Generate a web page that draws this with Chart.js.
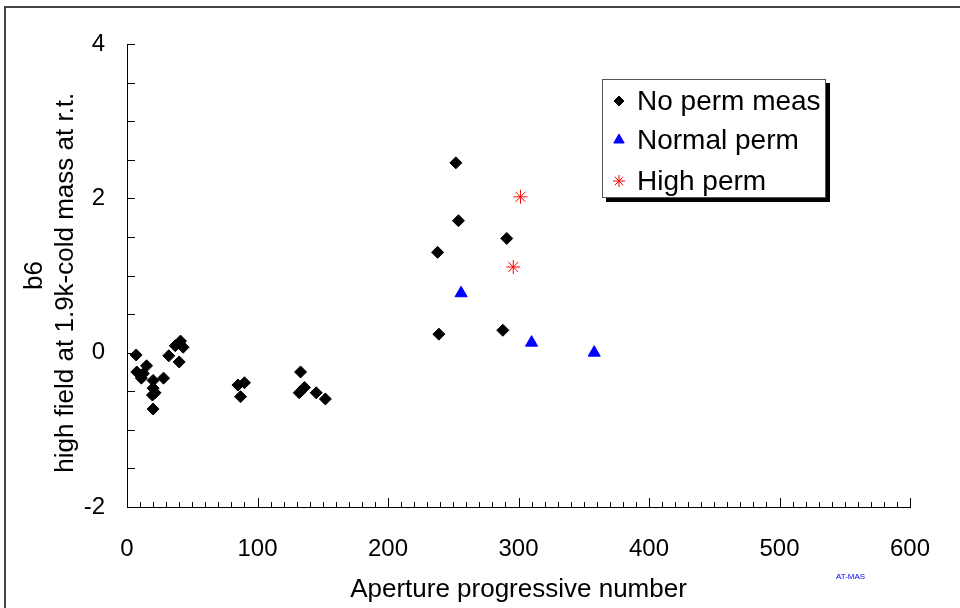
<!DOCTYPE html>
<html>
<head>
<meta charset="utf-8">
<script src="https://cdn.jsdelivr.net/npm/chart.js@4"></script>
<style>
  html, body { margin: 0; padding: 0; background: #fff; overflow: hidden; }
  #wrap { position: relative; width: 960px; height: 608px; }
  #tag {
    position: absolute; left: 836px; top: 572px;
    font: 8px "Liberation Sans", Arial, sans-serif; color: #0000ff;
  }
</style>
</head>
<body>
<div id="wrap">
  <canvas id="chart" width="960" height="608"></canvas>
  <div id="tag">AT-MAS</div>
</div>
<script>
const xTicks = [0, 100, 200, 300, 400, 500, 600];
const yTicks = [-2, 0, 2, 4];

const noPermX = [7, 15, 7.5, 11, 12.5, 20, 28, 20, 21.5, 19.5, 20, 32, 37, 41, 43, 40,
  85, 90, 87, 133, 136, 132, 145, 152,
  252, 254, 291, 238, 239, 288];
const noPermY = [-0.03, -0.17, -0.25, -0.33, -0.27, -0.36, -0.33, -0.46, -0.52, -0.55, -0.73, -0.04, 0.09, 0.15, 0.07, -0.12,
  -0.42, -0.39, -0.57, -0.25, -0.45, -0.52, -0.52, -0.6,
  2.46, 1.71, 1.48, 1.3, 0.24, 0.29];

const normalPermX = [256, 310, 358];
const normalPermY = [0.77, 0.13, 0.0];

const highPermX = [301.5, 296];
const highPermY = [2.02, 1.11];

const FONT = '"Liberation Sans", Arial, sans-serif';

function toPoints(xs, ys) {
  return xs.map((x, i) => ({ x, y: ys[i] }));
}

function drawMarker(ctx, style, x, y, radius, fill, stroke, width) {
  ctx.save();
  ctx.fillStyle = fill;
  ctx.strokeStyle = stroke;
  ctx.lineWidth = width;
  if (Chart.helpers && Chart.helpers.drawPoint) {
    Chart.helpers.drawPoint(ctx, { pointStyle: style, rotation: 0, radius, borderWidth: width }, x, y);
  }
  ctx.restore();
}

// frame, inward tick marks and the boxed legend
const decorPlugin = {
  id: 'decor',
  beforeDraw(chart) {
    const ctx = chart.ctx;
    ctx.save();
    ctx.strokeStyle = '#444';
    ctx.lineWidth = 2;
    ctx.beginPath();
    ctx.moveTo(5, 700);
    ctx.lineTo(5, 7);
    ctx.lineTo(1000, 7);
    ctx.stroke();
    ctx.restore();
  },
  afterDraw(chart) {
    const ctx = chart.ctx;
    const xs = chart.scales.x;
    const ys = chart.scales.y;
    const area = chart.chartArea;

    ctx.save();
    ctx.strokeStyle = '#000';
    ctx.lineWidth = 1;
    ctx.beginPath();
    for (let v = xs.min; v <= xs.max; v += 10) {
      const px = Math.round(xs.getPixelForValue(v)) + 0.5;
      const len = v % 100 === 0 ? 9 : 5;
      ctx.moveTo(px, area.bottom);
      ctx.lineTo(px, area.bottom - len);
    }
    for (let v = ys.min; v <= ys.max + 1e-9; v += 0.5) {
      const py = Math.round(ys.getPixelForValue(v)) + 0.5;
      ctx.moveTo(area.left, py);
      ctx.lineTo(area.left + 8, py);
    }
    ctx.stroke();

    const box = { x: 602, y: 79, w: 224, h: 119 };
    ctx.fillStyle = '#000';
    ctx.fillRect(box.x + 4, box.y + 4, box.w, box.h);
    ctx.fillStyle = '#fff';
    ctx.fillRect(box.x, box.y, box.w, box.h);
    ctx.strokeStyle = '#555';
    ctx.strokeRect(box.x + 0.5, box.y + 0.5, box.w - 1, box.h - 1);

    const rows = [101, 140, 181];
    const sizes = [5, 6, 6];
    ctx.font = '28px ' + FONT;
    ctx.textBaseline = 'middle';
    ctx.textAlign = 'left';
    chart.data.datasets.forEach((ds, i) => {
      drawMarker(ctx, ds.pointStyle, 619, rows[i], sizes[i], ds.backgroundColor, ds.borderColor, ds.borderWidth);
      ctx.fillStyle = '#000';
      ctx.fillText(ds.label, 637, rows[i] + 1);
    });
    ctx.restore();
  },
};

function buildChart() {
  const ctx = document.getElementById('chart');

  new Chart(ctx, {
    type: 'scatter',
    data: {
      datasets: [
        {
          label: 'No perm meas',
          data: toPoints(noPermX, noPermY),
          pointStyle: 'rectRot',
          pointRadius: 6,
          backgroundColor: '#000',
          borderColor: '#000',
          borderWidth: 1,
        },
        {
          label: 'Normal perm',
          data: toPoints(normalPermX, normalPermY),
          pointStyle: 'triangle',
          pointRadius: 7,
          backgroundColor: '#0000ff',
          borderColor: '#0000ff',
          borderWidth: 1,
        },
        {
          label: 'High perm',
          data: toPoints(highPermX, highPermY),
          pointStyle: 'star',
          pointRadius: 7,
          backgroundColor: '#ff0000',
          borderColor: '#ff0000',
          borderWidth: 1,
        },
      ],
    },
    options: {
      responsive: false,
      animation: false,
      devicePixelRatio: 1,
      layout: { padding: { top: 44, right: 50, left: 0, bottom: 0 } },
      plugins: {
        legend: { display: false },
        tooltip: { enabled: false },
      },
      scales: {
        x: {
          type: 'linear',
          min: 0,
          max: 600,
          afterBuildTicks: (scale) => { scale.ticks = xTicks.map((v) => ({ value: v })); },
          afterFit: (scale) => { scale.height = 101; },
          grid: { drawOnChartArea: false, drawTicks: false },
          border: { display: true, color: '#000', width: 1 },
          ticks: {
            color: '#000',
            padding: 28,
            maxRotation: 0,
            autoSkip: false,
            font: { family: FONT, size: 24 },
          },
          title: {
            display: true,
            text: 'Aperture progressive number',
            color: '#000',
            font: { family: FONT, size: 26 },
            padding: { top: 0, bottom: 3 },
          },
        },
        y: {
          type: 'linear',
          min: -2,
          max: 4,
          afterBuildTicks: (scale) => { scale.ticks = yTicks.map((v) => ({ value: v })); },
          afterFit: (scale) => { scale.width = 127; },
          grid: { drawOnChartArea: false, drawTicks: false },
          border: { display: true, color: '#000', width: 1 },
          ticks: {
            color: '#000',
            padding: 22,
            font: { family: FONT, size: 24 },
          },
          title: {
            display: true,
            text: ['b6', 'high field at 1.9k-cold mass at r.t.  '],
            color: '#000',
            font: { family: FONT, size: 26 },
            padding: { top: 19, bottom: 0 },
          },
        },
      },
    },
    plugins: [decorPlugin],
  });
}

buildChart();
</script>
</body>
</html>
